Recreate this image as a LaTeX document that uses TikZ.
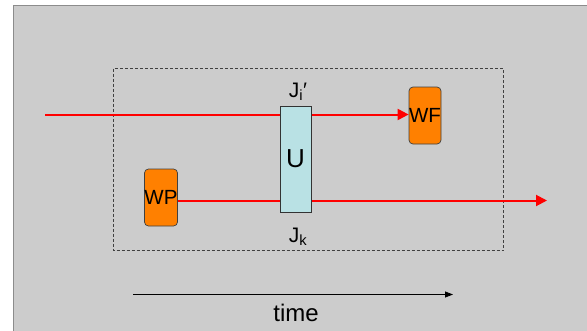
\documentclass[tikz,border=0pt]{standalone}
\usepackage{fontspec}
\setmainfont{Liberation Sans}
\usetikzlibrary{arrows.meta}
\definecolor{bggray}{HTML}{CCCCCC}
\definecolor{bordergray}{HTML}{8C8C8C}
\definecolor{worange}{HTML}{FF8000}
\definecolor{ublue}{HTML}{B9E1E4}
\tikzset{
  wbox/.style={draw=black!75, fill=worange, rounded corners=4pt, minimum width=32pt, minimum height=57pt, inner sep=0pt, font=\fontsize{20.5}{22}\selectfont, line width=0.7pt},
  ubox/.style={draw=black!80, fill=ublue, minimum width=31pt, minimum height=106pt, inner sep=0pt, font=\fontsize{26}{28}\selectfont, line width=0.8pt},
  redline/.style={draw=red, line width=2pt, -{Triangle[length=11pt,width=11pt]}},
  jlabel/.style={inner sep=0pt, font=\fontsize{21}{24}\selectfont},
}
\begin{document}
\begin{tikzpicture}[x=1pt,y=-1pt]
\useasboundingbox (0,0) rectangle (587,330);
\draw[bordergray, fill=bggray, line width=1pt] (13.5,5.5) rectangle (600,340);
\draw[black!75, dashed, line width=0.7pt, dash pattern=on 3pt off 2pt] (113.5,68.5) rectangle (503.5,250.5);
\node[wbox] (WF) at (425,115.5) {WF};
\node[wbox] (WP) at (161,197.5) {WP};
\coordinate (start) at (45,114.5);
\coordinate (end) at (547,200.5);
\draw[redline] (start) -- (WF.west |- start);
\draw[redline] (WP.east |- end) -- (end);
\node[ubox] (U) at (295.5,159) {U};
\node[jlabel] (Ji) at (298,92) {J\textsubscript{i}′};
\node[jlabel] (Jk) at (298,237) {J\textsubscript{k}};
\coordinate (t0) at (133,294.5);
\coordinate (t1) at (453,294.5);
\draw[black, line width=0.8pt, -{Triangle[length=8pt,width=6pt]}] (t0) -- (t1);
\node[inner sep=0pt, font=\fontsize{24}{26}\selectfont] (time) at (296,313) {time};
\end{tikzpicture}
\end{document}
